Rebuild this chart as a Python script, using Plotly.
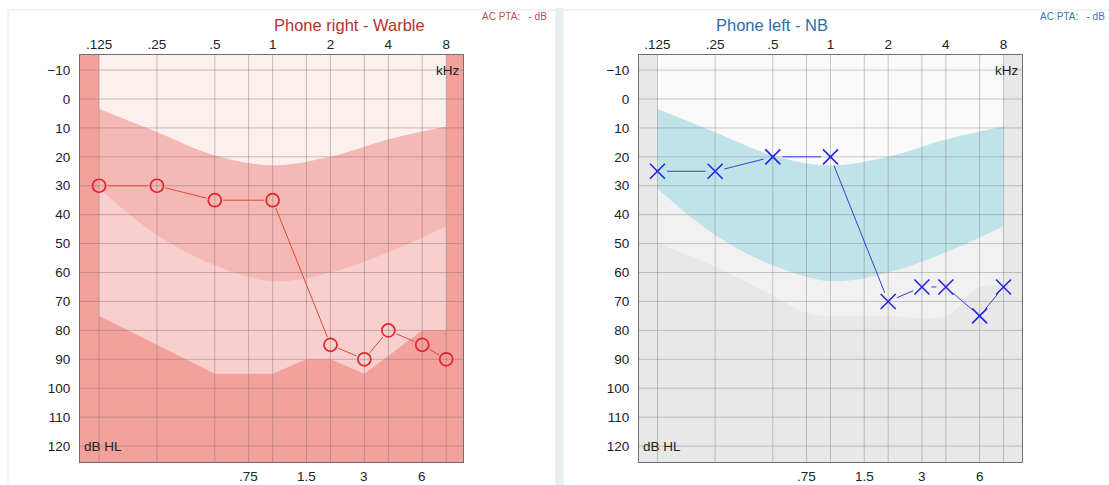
import numpy as np
import plotly.graph_objects as go

W, H = 1109, 485

# --- audiogram thresholds (kHz, dB HL) ---
test_freqs = [0.125, 0.25, 0.5, 1, 2, 3, 4, 6, 8]
right_ear_db = [30, 30, 35, 35, 85, 90, 80, 85, 90]
left_ear_db = [25, 25, 20, 20, 70, 65, 65, 75, 65]

# --- axis ticks ---
main_ticks = [0.125, 0.25, 0.5, 1, 2, 4, 8]
main_tick_text = [".125", ".25", ".5", "1", "2", "4", "8"]
mid_ticks = [0.75, 1.5, 3, 6]
mid_tick_text = [".75", "1.5", "3", "6"]
db_ticks = list(range(-10, 121, 10))

# --- shaded reference regions ---
band_freqs = [0.125, 0.25, 0.5, 1, 2, 4, 8]
band_top_db = [3.5, 11.5, 19.5, 23, 20, 14, 9.5]
band_bottom_db = [31, 47, 57.5, 63, 60, 53, 44]

red_floor_freqs = [0.125, 0.5, 1, 1.5, 2, 3, 6, 8]
red_floor_db = [75, 95, 95, 90, 90, 95, 80, 80]

gray_floor_freqs = [0.125, 0.25, 0.5, 0.75, 1, 2, 4, 6, 8]
gray_floor_db = [50, 58, 68, 74, 75, 75, 75, 65, 65]

Y_TOP, Y_BOTTOM = -15.2, 125.5
FONT = "Liberation Sans, Arial, sans-serif"

# plot rectangles in pixels: left, right, top, bottom
LEFT_BOX = (80, 463, 55, 462)
RIGHT_BOX = (639, 1022, 55, 462)
LX = (-3.33, 3.29)
RX = (-3.32, 3.32)


def l2(v):
    return list(np.log2(np.asarray(v, dtype=float)))


def fx(px):
    return px / W


def fy(py):
    return 1 - py / H


fig = go.Figure()


def region(xa, ya, freqs, upper, lower, color, upper_shape="linear", lower_shape="linear"):
    fig.add_trace(go.Scatter(x=l2(freqs), y=upper, mode="lines", line=dict(width=0, shape=upper_shape),
                             xaxis=xa, yaxis=ya, hoverinfo="skip", showlegend=False))
    fig.add_trace(go.Scatter(x=l2(freqs), y=lower, mode="lines", line=dict(width=0, shape=lower_shape),
                             fill="tonexty", fillcolor=color, xaxis=xa, yaxis=ya,
                             hoverinfo="skip", showlegend=False))


def grid(xa, ya, xmin, xmax, color):
    gx, gy = [], []
    for f in main_ticks + mid_ticks:
        gx += [np.log2(f), np.log2(f), None]
        gy += [Y_TOP, Y_BOTTOM, None]
    for d in db_ticks:
        gx += [xmin, xmax, None]
        gy += [d, d, None]
    fig.add_trace(go.Scatter(x=gx, y=gy, mode="lines", line=dict(color=color, width=1),
                             xaxis=xa, yaxis=ya, hoverinfo="skip", showlegend=False))


def connector(xa, ya, freqs, dbs, xr, box, gap_px, color):
    """Lines between symbols, stopping short of each symbol as audiograms do."""
    sx = (box[1] - box[0]) / (xr[1] - xr[0])
    sy = (box[3] - box[2]) / (Y_BOTTOM - Y_TOP)
    xs, ys = np.log2(np.asarray(freqs, float)), np.asarray(dbs, float)
    lx, ly = [], []
    for i in range(len(xs) - 1):
        dx, dy = (xs[i + 1] - xs[i]) * sx, (ys[i + 1] - ys[i]) * sy
        dist = np.hypot(dx, dy)
        if dist <= 2 * gap_px:
            continue
        t = gap_px / dist
        lx += [xs[i] + t * (xs[i + 1] - xs[i]), xs[i + 1] - t * (xs[i + 1] - xs[i]), None]
        ly += [ys[i] + t * (ys[i + 1] - ys[i]), ys[i + 1] - t * (ys[i + 1] - ys[i]), None]
    fig.add_trace(go.Scatter(x=lx, y=ly, mode="lines", line=dict(color=color, width=1),
                             xaxis=xa, yaxis=ya, hoverinfo="skip", showlegend=False))


# ---------- right ear (red) ----------
region("x", "y", red_floor_freqs, [Y_TOP] * len(red_floor_freqs), red_floor_db, "#f7d0cd")
region("x", "y", band_freqs, [Y_TOP] * len(band_freqs), band_top_db, "#fcf0ef",
       lower_shape="spline")
fig.add_trace(go.Scatter(x=l2(band_freqs), y=band_bottom_db, mode="lines",
                         line=dict(width=0, shape="spline"), fill="tonexty", fillcolor="#f4b9b5",
                         xaxis="x", yaxis="y", hoverinfo="skip", showlegend=False))
grid("x", "y", LX[0], LX[1], "rgba(140,110,110,0.45)")
connector("x", "y", test_freqs, right_ear_db, LX, LEFT_BOX, 8.5, "#e8453f")
fig.add_trace(go.Scatter(x=l2(test_freqs), y=right_ear_db, mode="markers",
                         marker=dict(symbol="circle-open", size=13, color="#e3232b",
                                     line=dict(width=1.7)),
                         xaxis="x", yaxis="y", showlegend=False, name="Right"))

# ---------- left ear (blue) ----------
region("x3", "y2", gray_floor_freqs, [Y_TOP] * len(gray_floor_freqs), gray_floor_db, "#f1f1f1",
       lower_shape="spline")
region("x3", "y2", band_freqs, [Y_TOP] * len(band_freqs), band_top_db, "#fafafa",
       lower_shape="spline")
fig.add_trace(go.Scatter(x=l2(band_freqs), y=band_bottom_db, mode="lines",
                         line=dict(width=0, shape="spline"), fill="tonexty", fillcolor="#c0e3ea",
                         xaxis="x3", yaxis="y2", hoverinfo="skip", showlegend=False))
grid("x3", "y2", RX[0], RX[1], "rgba(120,120,120,0.4)")
connector("x3", "y2", test_freqs, left_ear_db, RX, RIGHT_BOX, 9.5, "#3a3ad6")
fig.add_trace(go.Scatter(x=l2(test_freqs), y=left_ear_db, mode="markers",
                         marker=dict(symbol="x-thin-open", size=15, color="#2424e6",
                                     line=dict(width=1.6, color="#2424e6")),
                         xaxis="x3", yaxis="y2", showlegend=False, name="Left"))

tickfont = dict(family=FONT, size=13.5, color="#222222")


def xaxis_main(rng, dom, anchor):
    return dict(range=list(rng), domain=dom, anchor=anchor, side="top",
                tickvals=l2(main_ticks), ticktext=main_tick_text, tickfont=tickfont,
                showgrid=False, zeroline=False, showline=True, linecolor="#707070",
                linewidth=1, mirror=True, ticks="", fixedrange=True)


def yaxis(anchor):
    return dict(range=[Y_BOTTOM, Y_TOP], domain=[fy(LEFT_BOX[3]), fy(LEFT_BOX[2])], anchor=anchor,
                tickvals=db_ticks, tickfont=tickfont, showgrid=False, zeroline=False,
                showline=True, linecolor="#707070", linewidth=1, mirror=True,
                ticks="", ticklabelstandoff=6, fixedrange=True)


fig.update_layout(
    width=W, height=H, autosize=False,
    margin=dict(l=0, r=0, t=0, b=0),
    paper_bgcolor="white", plot_bgcolor="rgba(0,0,0,0)",
    showlegend=False,
    xaxis=xaxis_main(LX, [fx(LEFT_BOX[0]), fx(LEFT_BOX[1])], "y"),
    xaxis3=xaxis_main(RX, [fx(RIGHT_BOX[0]), fx(RIGHT_BOX[1])], "y2"),
    yaxis=yaxis("x"),
    yaxis2=yaxis("x3"),
)

shapes = [
    # panel frames and divider
    dict(type="rect", xref="paper", yref="paper", x0=fx(8), x1=fx(556), y0=fy(10), y1=fy(492),
         line=dict(color="#e4e9eb", width=1), fillcolor="rgba(0,0,0,0)", layer="below"),
    dict(type="rect", xref="paper", yref="paper", x0=fx(556), x1=fx(563), y0=fy(8), y1=fy(492),
         line=dict(width=0), fillcolor="#e8eef0", layer="below"),
    dict(type="rect", xref="paper", yref="paper", x0=fx(563), x1=fx(1112), y0=fy(10), y1=fy(492),
         line=dict(color="#e4e9eb", width=1), fillcolor="rgba(0,0,0,0)", layer="below"),
    # plot backgrounds
    dict(type="rect", xref="x domain", yref="y domain", x0=0, x1=1, y0=0, y1=1,
         line=dict(width=0), fillcolor="#f2a19c", layer="below"),
    dict(type="rect", xref="x3 domain", yref="y2 domain", x0=0, x1=1, y0=0, y1=1,
         line=dict(width=0), fillcolor="#e8e8e8", layer="below"),
]
fig.update_layout(shapes=shapes)

ann = [
    dict(text="Phone right - Warble", x=fx(272), y=fy(25), xref="paper", yref="paper",
         yanchor="middle", showarrow=False, font=dict(family=FONT, size=16.5, color="#b8312f")),
    dict(text="AC PTA:   - dB", x=fx(480), y=fy(17), xref="paper", yref="paper", xanchor="left",
         yanchor="middle", showarrow=False, font=dict(family=FONT, size=10, color="#c0504d")),
    dict(text="Phone left - NB", x=fx(830), y=fy(25), xref="paper", yref="paper",
         yanchor="middle", showarrow=False, font=dict(family=FONT, size=16.5, color="#2b6ea6")),
    dict(text="AC PTA:   - dB", x=fx(1038), y=fy(17), xref="paper", yref="paper", xanchor="left",
         yanchor="middle", showarrow=False, font=dict(family=FONT, size=10, color="#3a78b0")),
]
for xa, ya in (("x", "y"), ("x3", "y2")):
    ann.append(dict(text="kHz", x=0.995, y=-10, xref=f"{xa} domain", yref=ya, xanchor="right",
                    showarrow=False, font=dict(family=FONT, size=13.5, color="#222222")))
    ann.append(dict(text="dB HL", x=0.005, y=120, xref=f"{xa} domain", yref=ya, xanchor="left",
                    showarrow=False, font=dict(family=FONT, size=13.5, color="#222222")))
    # intermediate frequencies labelled beneath the grid
    for f, t in zip(mid_ticks, mid_tick_text):
        ann.append(dict(text=t, x=float(np.log2(f)), y=fy(476), xref=xa, yref="paper",
                        yanchor="middle", showarrow=False, font=tickfont))
fig.update_layout(annotations=ann)

fig.write_html("out.html")
